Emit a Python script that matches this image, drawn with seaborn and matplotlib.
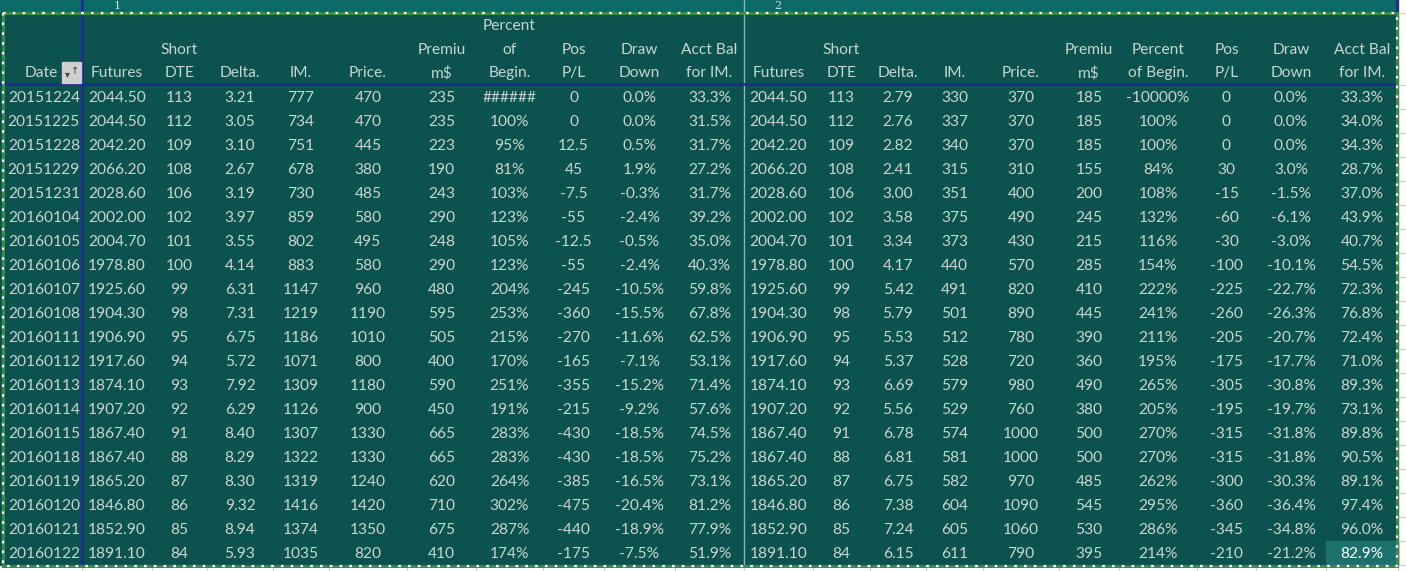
import math
import matplotlib

matplotlib.use('Agg')
import matplotlib.pyplot as plt
from matplotlib.patches import Rectangle
import numpy as np
import seaborn as sns

# ---- data ----
dates = [20151224, 20151225, 20151228, 20151229, 20151231, 20160104, 20160105,
         20160106, 20160107, 20160108, 20160111, 20160112, 20160113, 20160114,
         20160115, 20160118, 20160119, 20160120, 20160121, 20160122]
futures = [2044.50, 2044.50, 2042.20, 2066.20, 2028.60, 2002.00, 2004.70, 1978.80,
           1925.60, 1904.30, 1906.90, 1917.60, 1874.10, 1907.20, 1867.40, 1867.40,
           1865.20, 1846.80, 1852.90, 1891.10]
short_dte = [113, 112, 109, 108, 106, 102, 101, 100, 99, 98, 95, 94, 93, 92, 91,
             88, 87, 86, 85, 84]

# block 1
delta_1 = [3.21, 3.05, 3.10, 2.67, 3.19, 3.97, 3.55, 4.14, 6.31, 7.31, 6.75, 5.72,
           7.92, 6.29, 8.40, 8.29, 8.30, 9.32, 8.94, 5.93]
im_1 = [777, 734, 751, 678, 730, 859, 802, 883, 1147, 1219, 1186, 1071, 1309, 1126,
        1307, 1322, 1319, 1416, 1374, 1035]
price_1 = [470, 470, 445, 380, 485, 580, 495, 580, 960, 1190, 1010, 800, 1180, 900,
           1330, 1330, 1240, 1420, 1350, 820]
premium_1 = [235, 235, 223, 190, 243, 290, 248, 290, 480, 595, 505, 400, 590, 450,
             665, 665, 620, 710, 675, 410]
pct_begin_1 = [np.nan, 100, 95, 81, 103, 123, 105, 123, 204, 253, 215, 170, 251, 191,
               283, 283, 264, 302, 287, 174]
pos_pl_1 = [0, 0, 12.5, 45, -7.5, -55, -12.5, -55, -245, -360, -270, -165, -355, -215,
            -430, -430, -385, -475, -440, -175]
drawdown_1 = [0.0, 0.0, 0.5, 1.9, -0.3, -2.4, -0.5, -2.4, -10.5, -15.5, -11.6, -7.1,
              -15.2, -9.2, -18.5, -18.5, -16.5, -20.4, -18.9, -7.5]
acct_bal_1 = [33.3, 31.5, 31.7, 27.2, 31.7, 39.2, 35.0, 40.3, 59.8, 67.8, 62.5, 53.1,
              71.4, 57.6, 74.5, 75.2, 73.1, 81.2, 77.9, 51.9]

# block 2
delta_2 = [2.79, 2.76, 2.82, 2.41, 3.00, 3.58, 3.34, 4.17, 5.42, 5.79, 5.53, 5.37,
           6.69, 5.56, 6.78, 6.81, 6.75, 7.38, 7.24, 6.15]
im_2 = [330, 337, 340, 315, 351, 375, 373, 440, 491, 501, 512, 528, 579, 529, 574,
        581, 582, 604, 605, 611]
price_2 = [370, 370, 370, 310, 400, 490, 430, 570, 820, 890, 780, 720, 980, 760,
           1000, 1000, 970, 1090, 1060, 790]
premium_2 = [185, 185, 185, 155, 200, 245, 215, 285, 410, 445, 390, 360, 490, 380,
             500, 500, 485, 545, 530, 395]
pct_begin_2 = [-10000, 100, 100, 84, 108, 132, 116, 154, 222, 241, 211, 195, 265, 205,
               270, 270, 262, 295, 286, 214]
pos_pl_2 = [0, 0, 0, 30, -15, -60, -30, -100, -225, -260, -205, -175, -305, -195,
            -315, -315, -300, -360, -345, -210]
drawdown_2 = [0.0, 0.0, 0.0, 3.0, -1.5, -6.1, -3.0, -10.1, -22.7, -26.3, -20.7, -17.7,
              -30.8, -19.7, -31.8, -31.8, -30.3, -36.4, -34.8, -21.2]
acct_bal_2 = [33.3, 34.0, 34.3, 28.7, 37.0, 43.9, 40.7, 54.5, 72.3, 76.8, 72.4, 71.0,
              89.3, 73.1, 89.8, 90.5, 89.1, 97.4, 96.0, 82.9]

headers_1 = ['Futures', 'Short\nDTE', 'Delta.', 'IM.', 'Price.', 'Premiu\nm$',
             'Percent\nof\nBegin.', 'Pos\nP/L', 'Draw\nDown', 'Acct Bal\nfor IM.']
headers_2 = ['Futures', 'Short\nDTE', 'Delta.', 'IM.', 'Price.', 'Premiu\nm$',
             'Percent\nof Begin.', 'Pos\nP/L', 'Draw\nDown', 'Acct Bal\nfor IM.']
page_labels = ['1', '2']


def fmt_pct0(v):
    if v is None or (isinstance(v, float) and math.isnan(v)):
        return '######'   # cell too narrow in excel
    return '{:d}%'.format(int(v))


fmts = [lambda v: '{:.2f}'.format(v), lambda v: '{:d}'.format(v),
        lambda v: '{:.2f}'.format(v), lambda v: '{:d}'.format(v),
        lambda v: '{:d}'.format(v), lambda v: '{:d}'.format(v),
        fmt_pct0, lambda v: '{:g}'.format(v),
        lambda v: '{:.1f}%'.format(v), lambda v: '{:.1f}%'.format(v)]

block_1 = [futures, short_dte, delta_1, im_1, price_1, premium_1, pct_begin_1,
           pos_pl_1, drawdown_1, acct_bal_1]
block_2 = [futures, short_dte, delta_2, im_2, price_2, premium_2, pct_begin_2,
           pos_pl_2, drawdown_2, acct_bal_2]

# ---- layout (pixels) ----
edges_1 = [82, 152, 207, 273, 329, 407, 476, 543, 604, 675, 744]
edges_2 = [744, 813, 870, 926, 983, 1059, 1119, 1197, 1256, 1326, 1398]
row_h = 24
head_bottom = 85
right_edge = 1398
bottom_edge = head_bottom + row_h * len(dates)

bg = '#0c524f'
top_bg = '#0b6a65'
sel_bg = '#1c716c'
txt = '#c6d5cf'
navy = '#1f2c94'

sns.set_theme(style='white')
plt.rcParams['font.family'] = ['Lato', 'DejaVu Sans']
fs = 11.2

fig = plt.figure(figsize=(14.06, 5.71), dpi=100)
ax = fig.add_axes([0, 0, 1, 1])
ax.set_xlim(0, 1406)
ax.set_ylim(571, 0)
ax.axis('off')

# sheet backgrounds
ax.add_patch(Rectangle((0, 0), right_edge, 13, color=top_bg, zorder=0))
ax.add_patch(Rectangle((0, 13), right_edge, bottom_edge - 13, color=bg, zorder=0))
# active cell (not shaded by selection)
ax.add_patch(Rectangle((edges_2[-2], bottom_edge - row_h), edges_2[-1] - edges_2[-2],
                       row_h, color=sel_bg, zorder=1))

# plain gridlines outside the coloured range
for k in range(len(dates) + 1):
    y = head_bottom + k * row_h
    ax.plot([right_edge + 1, 1406], [y, y], color='#d4d4d4', lw=1, zorder=1)
ax.plot([right_edge + 1, 1406], [13, 13], color='#d4d4d4', lw=1, zorder=1)
for x in [82] + edges_1[1:] + edges_2[1:]:
    ax.plot([x, x], [bottom_edge + 1, 571], color='#d4d4d4', lw=1, zorder=1)

# page labels at the top strip
for lab, x in zip(page_labels, [117, 778]):
    ax.text(x, 6, lab, ha='center', va='center', fontsize=8, color='#cfe0dc',
            family='DejaVu Serif', zorder=2)

# page break and freeze lines
ax.plot([744, 744], [0, bottom_edge], color='#8fb3ae', lw=1, zorder=3)
ax.plot([82, 82], [0, bottom_edge], color=navy, lw=2, zorder=4)
ax.plot([0, right_edge - 1], [84, 84], color=navy, lw=2, zorder=4)
ax.plot([right_edge - 1, right_edge - 1], [0, 11], color=navy, lw=2, zorder=4)

# headers (bottom aligned, wrapped)
line_ys = [73, 49.5, 26]
for heads, edges in [(headers_1, edges_1), (headers_2, edges_2)]:
    for j, h in enumerate(heads):
        xc = (edges[j] + edges[j + 1]) / 2
        for i, part in enumerate(reversed(h.split('\n'))):
            ax.text(xc, line_ys[i], part, ha='center', va='center', fontsize=fs,
                    color=txt, zorder=5)
ax.text(58, 73, 'Date', ha='right', va='center', fontsize=fs, color=txt, zorder=5)
# sort / filter button
ax.add_patch(Rectangle((62, 62), 19, 21, color='#cfcfcf', zorder=5))
ax.text(67, 74, '\u25be', ha='center', va='center', fontsize=7, color='#444444',
        family='DejaVu Sans', zorder=6)
ax.text(75, 71, '\u2191', ha='center', va='center', fontsize=7, color='#444444',
        family='DejaVu Sans', zorder=6)

# body
for r, d in enumerate(dates):
    yc = head_bottom + r * row_h + row_h / 2 + 0.5
    ax.text(80, yc, str(d), ha='right', va='center', fontsize=fs, color=txt, zorder=5)
    for block, edges in [(block_1, edges_1), (block_2, edges_2)]:
        for j, col in enumerate(block):
            xc = (edges[j] + edges[j + 1]) / 2
            is_active = (block is block_2 and j == len(block) - 1 and r == len(dates) - 1)
            ax.text(xc, yc, fmts[j](col[r]), ha='center', va='center', fontsize=fs,
                    color='white' if is_active else txt, zorder=5)

# copy marquee: green line with white dots
bx = [3, right_edge - 1, right_edge - 1, 3, 3]
by = [13, 13, bottom_edge + 1, bottom_edge + 1, 13]
ax.plot(bx, by, color='#3a8b47', lw=2.2, zorder=7, solid_joinstyle='miter')
ax.plot(bx, by, color='white', lw=1.6, ls=(0, (1.2, 3.2)), zorder=8)

fig.savefig('out.png', dpi=100)
